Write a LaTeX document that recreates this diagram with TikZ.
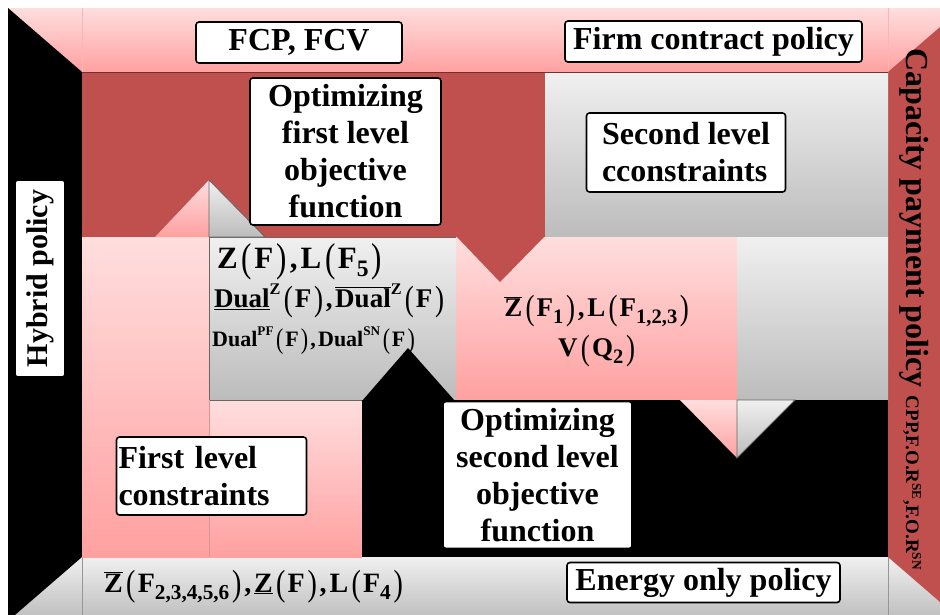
\documentclass[tikz,border=0pt]{standalone}
\usepackage{fontspec}
\setmainfont{Liberation Serif}[BoldFont={Liberation Serif Bold}]
\definecolor{dred}{RGB}{192,80,77}
\definecolor{pinkT}{RGB}{255,222,222}
\definecolor{pinkB}{RGB}{255,160,160}
\definecolor{greyT}{RGB}{240,240,240}
\definecolor{greyB}{RGB}{188,188,188}
\newcommand\lp{\kern0.12em\raisebox{-0.12em}{\scalebox{1}[1.3]{\mdseries(}}\kern0.08em}
\newcommand\rp{\kern0.1em\raisebox{-0.12em}{\scalebox{1}[1.3]{\mdseries)}}\kern0.1em}
\newcommand\cm{,\kern0.1em}
\newcommand\sub[1]{\raisebox{-0.28em}{\scalebox{0.76}{#1}}}
\newcommand\sups[1]{\raisebox{0.48em}{\scalebox{0.6}{#1}}}
\newcommand\ovl[1]{\ensuremath{\overline{\hbox{#1}}}}
\newcommand\fs[2]{\fontsize{#1}{#2}\selectfont}
\begin{document}
\begin{tikzpicture}[x=1pt,y=-1pt,font=\rmfamily\bfseries,
  lbl/.style={draw=black,line width=1.6pt,fill=white,rounded corners=3pt,inner sep=2pt,align=center,font=\rmfamily\bfseries\fs{32}{37}},
  pinkgrad/.style={top color=pinkT,bottom color=pinkB},
  greygrad/.style={top color=greyT,bottom color=greyB},
  seam/.style={line width=0.8pt},
  plain/.style={inner sep=0pt}]
\useasboundingbox (0,0) rectangle (940,614);
\begin{scope}
\clip (0,0) rectangle (940,614);
% ceiling
\path[pinkgrad] (8,8) rectangle (962,72);
\draw[seam,draw=pinkB!80!white] (82,8) -- (82,72) (888,8) -- (888,72);
% floor
\path[greygrad] (8,557) rectangle (962,621);
\draw[seam,draw=greyB!80!black] (82,557) -- (82,621) (888,557) -- (888,621);
% left wall
\fill[black] (8,8) -- (82,72) -- (82,557) -- (8,621) -- cycle;
% right wall
\fill[dred] (962,8) -- (888,72) -- (888,557) -- (962,621) -- cycle;
% back wall
\fill[dred] (82,72) rectangle (545,237);
\path[greygrad] (545,72) rectangle (888,237);
\path[pinkgrad] (82,237) rectangle (209,557);
\path[pinkgrad] (209,400) rectangle (362,557);
\path[greygrad,draw=gray!80!black,line width=1pt] (209,237) rectangle (456,400);
\path[pinkgrad] (456,237) rectangle (737,400);
\path[greygrad] (737,237) rectangle (888,400);
\fill[black] (362,400) rectangle (888,557);
\draw[seam,draw=dred!60!black] (82,72) -- (888,72);
\draw[seam,draw=pinkB!70!gray] (209,400) -- (209,557);
% triangles
\path[pinkgrad] (155,237) -- (209,180) -- (209,237) -- cycle;
\path[greygrad,draw=gray!80!black,line width=0.8pt] (209,180) -- (265,237) -- (209,237) -- cycle;
\fill[dred] (456,236) -- (545,236) -- (500,282) -- cycle;
\fill[black] (362,401) -- (408,348) -- (455,401) -- cycle;
\path[pinkgrad] (680,400) -- (737,400) -- (737,458) -- cycle;
\path[greygrad,draw=gray!80!black,line width=0.8pt] (737,400) -- (795,400) -- (737,458) -- cycle;
\end{scope}
% labelled boxes
\node[lbl,minimum width=206,minimum height=41] (fcp) at (299,42.5) {FCP, FCV};
\node[lbl,minimum width=297,minimum height=41] (firm) at (713.5,41.5) {Firm contract policy};
\node[lbl,minimum width=191,minimum height=147] (opt1) at (345.5,151.5) {Optimizing\\first level\\objective\\function};
\node[lbl,minimum width=199,minimum height=79,align=left] (sec) at (686,152.5) {Second level\\cconstraints};
\node[lbl,minimum width=197,minimum height=50,rotate=90,font=\rmfamily\bfseries\fs{30}{36}] (hyb) at (40,278.5) {Hybrid policy};
\node[lbl,minimum height=78,text width=186,align=left] (first) at (211.5,476) {First level\\constraints};
\node[lbl,minimum width=189,minimum height=147] (opt2) at (537.5,475) {Optimizing\\second level\\objective\\function};
\node[lbl,minimum width=273,minimum height=40] (energy) at (703.5,582.5) {Energy only policy};
% right wall text
\node[plain,rotate=-90,anchor=base west] (cap) at (906,48) {\fs{32}{37}Capacity payment policy \fs{19}{21}CPP,F.O.R\textsuperscript{SE},F.O.R\textsuperscript{SN}};
% formulas
\node[plain,anchor=base west] (zf1) at (217,268) {\fs{31}{34}Z\lp F\rp\cm L\lp F\sub{5}\rp};
\node[plain,anchor=base west] (zf2) at (214,307) {\fs{27}{30}\underline{Dual}\sups{Z}\lp F\rp\cm\ovl{Dual}\sups{Z}\lp F\rp};
\node[plain,anchor=base west] (zf3) at (212,346) {\fs{22}{25}Dual\sups{PF}\lp F\rp\cm Dual\sups{SN}\lp F\rp};
\node[plain,align=center,font=\rmfamily\bfseries\fs{27}{40}] (zp) at (598,331) {\ovl{Z}\lp F\sub{1}\rp\cm L\lp F\sub{1,2,3}\rp\\V\lp Q\sub{2}\rp};
\node[plain,anchor=base west] (zb) at (104,592) {\fs{28}{30}\ovl{Z}\lp F\sub{2,3,4,5,6}\rp\cm\underline{Z}\lp F\rp\cm L\lp F\sub{4}\rp};
\end{tikzpicture}
\end{document}
